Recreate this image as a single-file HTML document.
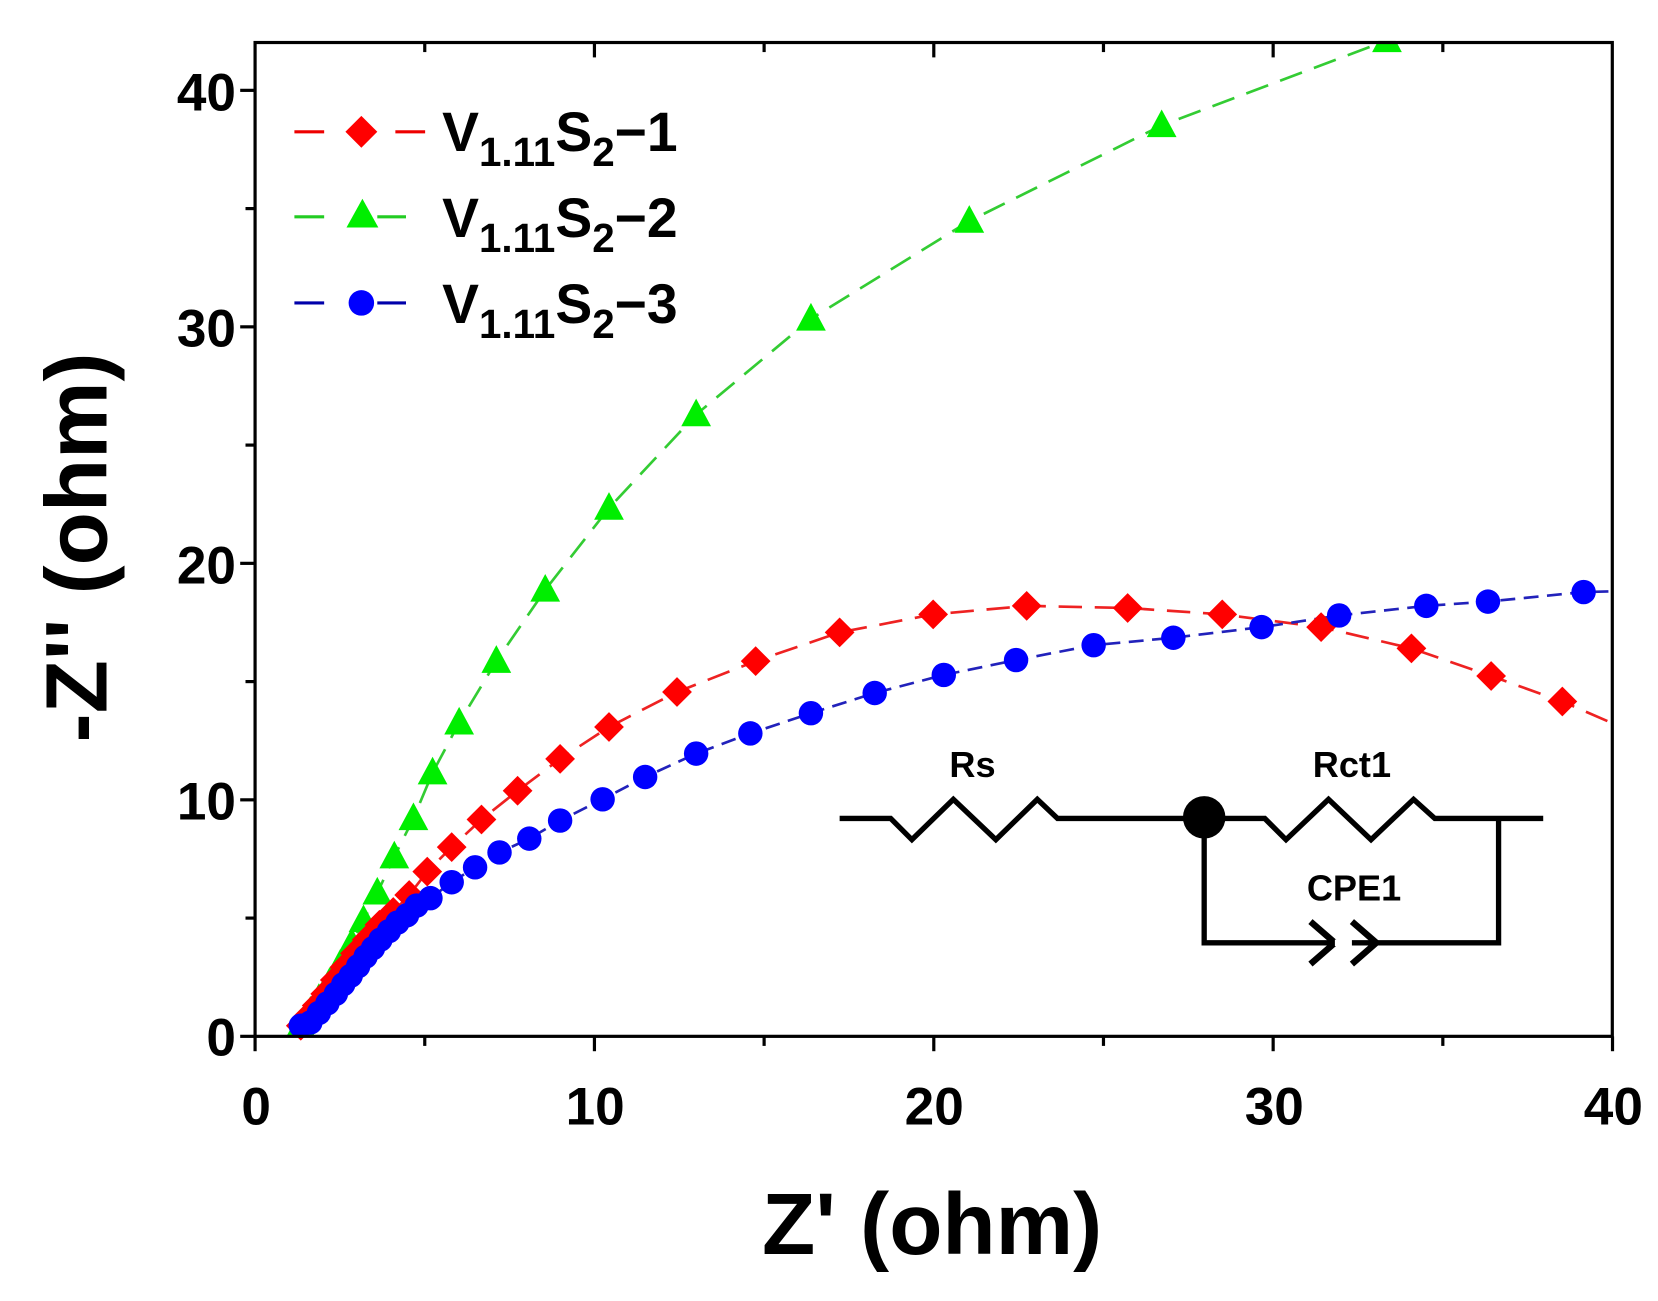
<!DOCTYPE html>
<html><head><meta charset="utf-8"><style>
html,body{margin:0;padding:0;background:#fff}
svg{display:block}
text{font-family:"Liberation Sans",Arial,sans-serif;font-weight:bold;fill:#000}
</style></head><body>
<svg id="s" width="1658" height="1301" viewBox="0 0 1560 1224" preserveAspectRatio="none" xmlns="http://www.w3.org/2000/svg">
<rect width="1560" height="1224" fill="#fff"/>
<g id="plot"></g>
<rect x="240" y="40" width="1277" height="935" fill="none" stroke="#000" stroke-width="3"/>
<g id="ticks" stroke="#000" stroke-width="3"></g>
<g font-size="50" text-anchor="middle">
<text x="241" y="1058">0</text><text x="560" y="1058">10</text><text x="879" y="1058">20</text><text x="1199" y="1058">30</text><text x="1518" y="1058">40</text>
</g>
<g font-size="50" text-anchor="end">
<text x="222" y="993">0</text><text x="222" y="771">10</text><text x="222" y="549">20</text><text x="222" y="326">30</text><text x="222" y="104">40</text>
</g>
<text x="877" y="1180" font-size="82" text-anchor="middle">Z' (ohm)</text>
<text transform="translate(100,515) rotate(-90)" font-size="82" text-anchor="middle">-Z'' (ohm)</text>
<g stroke-width="3">
<line x1="277" y1="124" x2="305" y2="124" stroke="#e00"/><line x1="372" y1="124" x2="400" y2="124" stroke="#e00"/>
<polygon points="340,109 355,124 340,139 325,124" fill="#f00"/>
<line x1="277" y1="204" x2="305" y2="204" stroke="#2c2"/><line x1="355" y1="204" x2="382" y2="204" stroke="#2c2"/>
<polygon points="341,187 356,214 326,214" fill="#0e0"/>
<line x1="277" y1="285" x2="305" y2="285" stroke="#00a"/><line x1="355" y1="285" x2="382" y2="285" stroke="#00a"/>
<circle cx="340" cy="285" r="12" fill="#00f"/>
</g>
<g font-size="52">
<text x="416" y="142">V<tspan font-size="38" dy="14">1.11</tspan><tspan dy="-14">S</tspan><tspan font-size="38" dy="14">2</tspan><tspan dy="-14">−1</tspan></text>
<text x="416" y="223">V<tspan font-size="38" dy="14">1.11</tspan><tspan dy="-14">S</tspan><tspan font-size="38" dy="14">2</tspan><tspan dy="-14">−2</tspan></text>
<text x="416" y="304">V<tspan font-size="38" dy="14">1.11</tspan><tspan dy="-14">S</tspan><tspan font-size="38" dy="14">2</tspan><tspan dy="-14">−3</tspan></text>
</g>
<g stroke="#000" stroke-width="5" fill="none">
<polyline points="790,770 838,770 858,790 897,752 937,790 976,752 995,770 1190,770 1210,790 1250,752 1290,790 1330,752 1350,770 1452,770"/>
<polyline points="1133,770 1133,887 1410,887 1410,770"/>
<polyline points="1233,867 1256,887 1233,907" stroke-width="6"/>
<polyline points="1272,867 1295,887 1272,907" stroke-width="6"/>
</g>
<line x1="1256" y1="887" x2="1272" y2="887" stroke="#fff" stroke-width="6"/>
<circle cx="1133" cy="769" r="20" fill="#000"/>
<g font-size="34" text-anchor="middle">
<text x="915" y="731">Rs</text><text x="1272" y="731">Rct1</text><text x="1274" y="847">CPE1</text>
</g>
</svg>
<script>
var X=function(v){return 240+v*31.93},Y=function(v){return 975-v*22.25};
var NS="http://www.w3.org/2000/svg";
function el(t,a,p){var e=document.createElementNS(NS,t);for(var k in a)e.setAttribute(k,a[k]);(p||document.getElementById('plot')).appendChild(e);return e;}
var tk=document.getElementById('ticks');
for(var v=0;v<=40;v+=5){var maj=v%10==0,x=X(v),L=maj?14:9;
 el('line',{x1:x,y1:975,x2:x,y2:975+L},tk); if(v>0&&v<40)el('line',{x1:x,y1:40,x2:x,y2:40+L},tk);
 var y=Y(v); el('line',{x1:240,y1:y,x2:240-L,y2:y},tk);}
var red=[[283,965],[290,956],[298,946],[306,935],[315,922],[324,910],[334,897],[345,884],[357,870],[370,858],[385,842],[402,820],[425,797],[453,771],[487,744],[527,714],[573,684],[637,651],[711,622],[790,595],[878,578],[966,570],[1061,572],[1150,578],[1243,590],[1328,610],[1403,636],[1470,660]];
var grn=[[283,965],[292,952],[300,940],[310,925],[320,908],[331,888],[342,866],[355,840],[371,806],[389,770],[407,727],[432,680],[467,622],[513,555],[573,478],[655,390],[763,300],[912,208],[1093,118],[1305,38]];
var blu=[[283,965],[292,962],[300,953],[308,944],[316,935],[323,926],[330,918],[337,909],[344,900],[351,892],[358,884],[366,876],[374,868],[383,861],[392,852],[405,845],[425,830],[447,816],[470,802],[498,789],[527,772],[567,752],[607,731],[655,709],[706,690],[763,671],[823,652],[888,635],[956,621],[1029,607],[1104,600],[1187,590],[1260,579],[1342,570],[1400,566],[1490,557]];
function line(d,c,dash,ext){var p=d.map(function(a){return a.join(',')}).join(' ');if(ext)p+=' '+ext.join(',');el('polyline',{points:p,fill:'none',stroke:c,'stroke-width':2.5,'stroke-dasharray':dash});}
line(grn,'#3c3','22,12',[1360,20]);
line(red,'#e22','22,12',[1530,686]);
line(blu,'#22b','14,8',[1530,556]);
grn.forEach(function(a){el('polygon',{points:(a[0])+','+(a[1]-15)+' '+(a[0]+14)+','+(a[1]+11)+' '+(a[0]-14)+','+(a[1]+11),fill:'#0e0'});});
red.forEach(function(a){el('polygon',{points:a[0]+','+(a[1]-14)+' '+(a[0]+14)+','+a[1]+' '+a[0]+','+(a[1]+14)+' '+(a[0]-14)+','+a[1],fill:'#f00'});});
blu.forEach(function(a){el('circle',{cx:a[0],cy:a[1],r:11.5,fill:'#00f'});});
el('rect',{x:240,y:0,width:1320,height:38.5,fill:'#fff'});
el('rect',{x:1518.5,y:0,width:60,height:1000,fill:'#fff'});
</script>
</body></html>
